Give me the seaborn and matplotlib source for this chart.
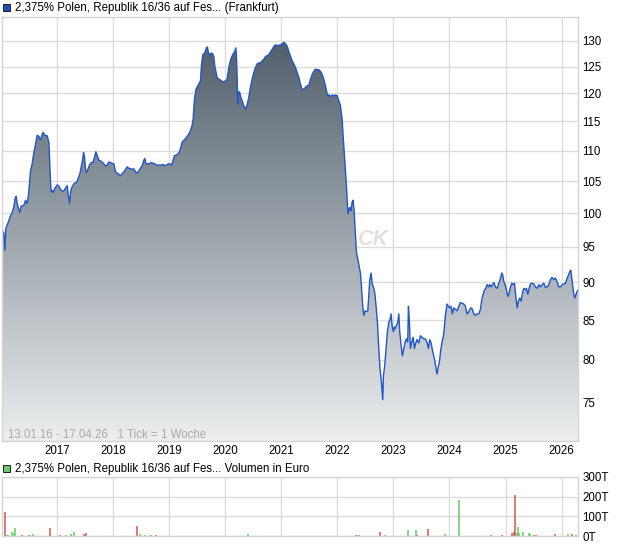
import numpy as np
import pandas as pd
import matplotlib
matplotlib.use('Agg')
import matplotlib.pyplot as plt
import matplotlib.dates as mdates
from matplotlib.ticker import FixedLocator, FixedFormatter, NullLocator
from matplotlib.patches import Rectangle
import seaborn as sns

# ── DATA ───────────────────────────────────────────────
# weekly closes, time as decimal year
price_year = [
    2016.034, 2016.056, 2016.074, 2016.092, 2016.116, 2016.146, 2016.175, 2016.205, 2016.235, 2016.258,
    2016.276, 2016.294, 2016.324, 2016.342, 2016.365, 2016.413, 2016.443, 2016.472, 2016.496, 2016.514,
    2016.532, 2016.561, 2016.591, 2016.621, 2016.650, 2016.680, 2016.710, 2016.740, 2016.757, 2016.787,
    2016.829, 2016.858, 2016.870, 2016.888, 2016.900, 2016.918, 2016.936, 2016.959, 2016.983, 2017.007,
    2017.037, 2017.066, 2017.096, 2017.126, 2017.155, 2017.185, 2017.203, 2017.227, 2017.245, 2017.262,
    2017.292, 2017.316, 2017.352, 2017.381, 2017.411, 2017.435, 2017.458, 2017.476, 2017.494, 2017.512,
    2017.530, 2017.554, 2017.583, 2017.613, 2017.643, 2017.672, 2017.696, 2017.720, 2017.750, 2017.779,
    2017.809, 2017.839, 2017.868, 2017.898, 2017.928, 2017.958, 2017.987, 2018.017, 2018.047, 2018.076,
    2018.106, 2018.136, 2018.166, 2018.195, 2018.225, 2018.255, 2018.284, 2018.314, 2018.344, 2018.373,
    2018.403, 2018.433, 2018.463, 2018.492, 2018.522, 2018.552, 2018.569, 2018.593, 2018.623, 2018.659,
    2018.688, 2018.718, 2018.748, 2018.777, 2018.819, 2018.861, 2018.896, 2018.926, 2018.956, 2018.985,
    2019.015, 2019.045, 2019.074, 2019.098, 2019.128, 2019.158, 2019.181, 2019.205, 2019.235, 2019.265,
    2019.294, 2019.324, 2019.354, 2019.383, 2019.413, 2019.431, 2019.455, 2019.484, 2019.514, 2019.561,
    2019.579, 2019.603, 2019.638, 2019.668, 2019.686, 2019.710, 2019.739, 2019.769, 2019.799, 2019.817,
    2019.840, 2019.864, 2019.900, 2019.935, 2019.971, 2020.007, 2020.036, 2020.054, 2020.072, 2020.102,
    2020.137, 2020.173, 2020.191, 2020.203, 2020.215, 2020.226, 2020.244, 2020.262, 2020.280, 2020.304,
    2020.333, 2020.363, 2020.393, 2020.423, 2020.452, 2020.482, 2020.512, 2020.541, 2020.571, 2020.601,
    2020.630, 2020.660, 2020.690, 2020.720, 2020.749, 2020.779, 2020.809, 2020.838, 2020.868, 2020.898,
    2020.928, 2020.957, 2020.987, 2021.017, 2021.046, 2021.076, 2021.106, 2021.135, 2021.165, 2021.195,
    2021.225, 2021.254, 2021.284, 2021.314, 2021.343, 2021.373, 2021.403, 2021.432, 2021.462, 2021.492,
    2021.522, 2021.551, 2021.581, 2021.611, 2021.640, 2021.670, 2021.700, 2021.730, 2021.759, 2021.789,
    2021.813, 2021.836, 2021.860, 2021.884, 2021.908, 2021.937, 2021.967, 2021.997, 2022.027, 2022.056,
    2022.086, 2022.104, 2022.128, 2022.145, 2022.163, 2022.181, 2022.193, 2022.211, 2022.229, 2022.246,
    2022.264, 2022.282, 2022.300, 2022.318, 2022.341, 2022.365, 2022.389, 2022.413, 2022.431, 2022.454,
    2022.472, 2022.496, 2022.520, 2022.544, 2022.561, 2022.579, 2022.603, 2022.621, 2022.644, 2022.668,
    2022.692, 2022.716, 2022.740, 2022.763, 2022.787, 2022.811, 2022.823, 2022.846, 2022.870, 2022.894,
    2022.918, 2022.942, 2022.959, 2022.977, 2023.001, 2023.019, 2023.031, 2023.055, 2023.079, 2023.097,
    2023.114, 2023.138, 2023.162, 2023.186, 2023.209, 2023.233, 2023.257, 2023.269, 2023.287, 2023.304,
    2023.328, 2023.352, 2023.376, 2023.400, 2023.423, 2023.453, 2023.483, 2023.512, 2023.542, 2023.572,
    2023.602, 2023.625, 2023.649, 2023.673, 2023.697, 2023.720, 2023.744, 2023.762, 2023.780, 2023.798,
    2023.821, 2023.845, 2023.869, 2023.899, 2023.928, 2023.958, 2023.982, 2024.005, 2024.029, 2024.053,
    2024.077, 2024.106, 2024.136, 2024.166, 2024.196, 2024.225, 2024.255, 2024.285, 2024.314, 2024.338,
    2024.362, 2024.386, 2024.409, 2024.433, 2024.463, 2024.493, 2024.522, 2024.552, 2024.576, 2024.600,
    2024.623, 2024.647, 2024.671, 2024.695, 2024.718, 2024.742, 2024.766, 2024.790, 2024.819, 2024.849,
    2024.879, 2024.909, 2024.932, 2024.950, 2024.968, 2024.992, 2025.015, 2025.039, 2025.063, 2025.087,
    2025.111, 2025.134, 2025.158, 2025.182, 2025.206, 2025.229, 2025.253, 2025.277, 2025.301, 2025.324,
    2025.348, 2025.372, 2025.396, 2025.419, 2025.443, 2025.473, 2025.503, 2025.532, 2025.562, 2025.592,
    2025.621, 2025.651, 2025.681, 2025.711, 2025.740, 2025.770, 2025.800, 2025.830, 2025.859, 2025.889,
    2025.919, 2025.948, 2025.978, 2026.008, 2026.037, 2026.067, 2026.097, 2026.120, 2026.144, 2026.162,
    2026.180, 2026.198, 2026.216, 2026.233, 2026.257, 2026.275, 2026.293,
]
price_value = [
    97.3, 97.1, 94.5, 97.7, 98.2, 98.9, 99.6, 100.1, 101.0, 102.3,
    102.6, 101.5, 100.5, 100.1, 101.1, 101.2, 102.0, 101.5, 102.9, 104.8,
    106.7, 107.8, 109.7, 111.1, 112.6, 112.4, 111.8, 112.8, 113.1, 112.6,
    112.5, 111.4, 108.6, 104.8, 103.3, 103.5, 103.2, 103.8, 104.1, 104.4,
    104.2, 103.7, 103.4, 103.5, 103.9, 104.3, 102.9, 101.5, 103.3, 103.9,
    104.4, 104.7, 104.8, 105.5, 106.2, 107.3, 108.4, 109.7, 108.9, 106.9,
    106.4, 106.9, 107.6, 108.0, 108.0, 108.9, 109.8, 109.2, 108.4, 108.3,
    108.1, 107.8, 107.5, 107.6, 108.1, 108.0, 107.9, 107.8, 106.5, 106.3,
    106.1, 105.9, 106.2, 106.5, 106.9, 107.3, 107.1, 107.0, 106.9, 107.0,
    106.5, 106.3, 106.7, 107.1, 107.5, 108.4, 108.7, 107.8, 107.8, 107.9,
    108.0, 107.9, 107.8, 107.6, 107.6, 107.6, 107.7, 107.5, 107.6, 107.8,
    107.8, 107.6, 108.4, 109.2, 109.2, 109.4, 109.7, 110.3, 111.4, 111.7,
    112.0, 112.4, 112.8, 113.4, 114.3, 115.4, 119.0, 120.8, 121.4, 122.3,
    125.1, 127.3, 127.6, 128.6, 128.8, 127.3, 127.5, 127.6, 127.0, 125.1,
    123.9, 122.8, 122.6, 122.3, 122.1, 122.3, 122.6, 123.9, 125.1, 126.4,
    127.3, 127.9, 128.6, 127.3, 123.3, 118.1, 120.3, 120.2, 119.3, 118.7,
    117.8, 117.2, 117.9, 119.3, 121.1, 122.6, 123.9, 124.8, 125.5, 125.7,
    125.7, 126.1, 126.4, 126.9, 127.1, 127.3, 127.8, 128.3, 128.9, 129.2,
    129.1, 129.1, 129.2, 129.4, 129.7, 129.4, 128.9, 127.9, 127.0, 126.1,
    125.5, 124.8, 123.9, 123.0, 121.7, 120.7, 120.8, 121.1, 121.4, 121.5,
    122.6, 123.5, 124.1, 124.5, 124.4, 124.4, 124.1, 123.5, 122.6, 121.4,
    120.2, 119.6, 119.7, 119.4, 119.7, 119.6, 119.7, 119.6, 118.7, 117.8,
    115.4, 112.5, 109.1, 107.0, 104.3, 101.2, 99.9, 100.7, 100.9, 100.4,
    101.7, 102.0, 100.4, 97.7, 94.3, 93.3, 92.3, 91.3, 89.4, 86.8,
    85.6, 86.2, 86.1, 86.2, 88.1, 90.3, 91.3, 89.9, 89.4, 88.6,
    86.8, 84.7, 81.4, 78.9, 77.3, 75.3, 78.1, 79.3, 81.4, 83.5,
    84.7, 85.1, 85.8, 84.3, 83.5, 84.1, 83.9, 84.3, 84.7, 85.8,
    83.5, 81.8, 80.5, 81.4, 82.2, 82.6, 82.2, 86.8, 84.7, 81.4,
    82.2, 82.8, 81.4, 82.1, 82.5, 82.1, 83.0, 82.8, 82.6, 82.6,
    82.1, 81.4, 82.5, 82.1, 81.2, 80.5, 79.7, 78.9, 78.3, 79.1,
    79.7, 81.2, 82.2, 83.2, 85.6, 87.1, 86.8, 86.6, 86.8, 85.8,
    86.6, 86.4, 86.2, 86.8, 87.3, 87.2, 87.1, 86.8, 85.8, 86.0,
    86.4, 86.6, 86.4, 85.8, 85.6, 85.8, 85.8, 86.4, 87.7, 88.4,
    89.0, 89.2, 89.7, 89.4, 89.7, 89.4, 89.7, 90.0, 89.4, 89.2,
    89.9, 90.6, 91.3, 91.0, 90.1, 89.7, 89.0, 88.1, 88.6, 89.4,
    89.9, 89.7, 89.9, 88.1, 86.6, 87.5, 87.9, 87.5, 88.6, 89.2,
    89.0, 89.2, 88.4, 89.2, 89.8, 89.9, 89.8, 89.4, 89.2, 89.7,
    89.4, 89.7, 89.9, 89.3, 89.4, 89.7, 90.4, 90.7, 90.4, 90.6,
    90.1, 89.4, 89.4, 89.7, 89.8, 89.9, 90.6, 91.0, 91.5, 91.7,
    90.6, 89.4, 88.4, 87.9, 88.4, 88.8, 89.0,
]

# weekly volume in thousand euro, 'g' = up week, 'r' = down week
vol_year = [
    2016.070, 2016.092, 2016.113, 2016.134, 2016.211, 2016.239, 2016.261, 2016.387, 2016.437, 2016.500,
    2016.528, 2016.570, 2016.873, 2016.944, 2017.049, 2017.155, 2017.246, 2017.303, 2017.352, 2017.493,
    2017.514, 2018.134, 2018.437, 2018.479, 2018.570, 2018.655, 2018.676, 2018.768, 2020.415, 2022.331,
    2022.359, 2022.387, 2022.754, 2022.859, 2023.268, 2023.359, 2023.408, 2023.423, 2023.620, 2023.930,
    2024.169, 2024.746, 2024.944, 2025.106, 2025.141, 2025.169, 2025.204, 2025.225, 2025.246, 2025.317,
    2025.415, 2025.437, 2025.500, 2025.542, 2025.873, 2026.113, 2026.176, 2026.261,
]
vol_value = [
    121, 5, 5, 5, 21, 14, 42, 5, 2, 3,
    7, 9, 42, 2, 7, 7, 12, 21, 2, 12,
    16, 2, 52, 10, 5, 7, 7, 5, 12, 5,
    5, 5, 21, 5, 28, 2, 33, 7, 38, 12,
    182, 5, 5, 17, 21, 208, 17, 45, 14, 21,
    14, 10, 3, 7, 12, 12, 12, 3,
]
vol_dir = [
    'r', 'g', 'g', 'g', 'g', 'g', 'g', 'r', 'g', 'r',
    'g', 'g', 'r', 'g', 'r', 'g', 'g', 'g', 'g', 'r',
    'r', 'g', 'r', 'g', 'g', 'g', 'g', 'r', 'g', 'r',
    'g', 'g', 'r', 'g', 'g', 'g', 'g', 'r', 'r', 'g',
    'g', 'r', 'r', 'r', 'r', 'r', 'g', 'g', 'g', 'g',
    'g', 'g', 'r', 'r', 'r', 'g', 'r', 'g',
]

y_ticks = [75, 80, 85, 90, 95, 100, 105, 110, 115, 120, 125, 130]
vol_ticks = [0, 100, 200, 300]
vol_tick_labels = ['0T', '100T', '200T', '300T']

title_price = '2,375% Polen, Republik 16/36 auf Fes... (Frankfurt)'
title_vol = '2,375% Polen, Republik 16/36 auf Fes... Volumen in Euro'
range_note = '13.01.16 - 17.04.26   1 Tick = 1 Woche'


def to_date(y):
    yr = int(y)
    start = pd.Timestamp(yr, 1, 1)
    return start + (pd.Timestamp(yr + 1, 1, 1) - start) * (y - yr)


df = pd.DataFrame({'date': [to_date(y) for y in price_year], 'price': price_value})
vol = pd.DataFrame({'date': [to_date(y) for y in vol_year], 'volume': vol_value, 'dir': vol_dir})

x_start = pd.Timestamp('2016-01-13')
x_end = pd.Timestamp('2026-04-17')

# ── STYLE ──────────────────────────────────────────────
sns.set_theme(style='white')
plt.rcParams['font.family'] = ['Liberation Sans', 'DejaVu Sans']
grid_col = '#dcdcdc'
line_col = '#1f56c8'

fig = plt.figure(figsize=(6.2, 5.46), dpi=100)
fig.patch.set_facecolor('white')

# ── PRICE PANEL ────────────────────────────────────────
ax = fig.add_axes([0.004, 0.1914, 0.9282, 0.7775])
ax.set_yscale('log')
ax.set_xlim(x_start, x_end)
ax.set_ylim(70.66, 134.8)
ax.set_autoscale_on(False)

poly = ax.fill_between(df['date'], df['price'], 60, facecolor='none', edgecolor='none')

# vertical gradient under the curve
top = np.array([0x48, 0x57, 0x64]) / 255
bottom = np.array([0xec, 0xee, 0xef]) / 255
t = np.linspace(0, 1, 256)[:, None, None]
grad = top * (1 - t) + bottom * t
im = ax.imshow(grad, extent=(0, 1, 0, 1), transform=ax.transAxes, aspect='auto',
               zorder=1, interpolation='bilinear')
im.set_clip_path(poly.get_paths()[0], transform=ax.transData)

sns.lineplot(data=df, x='date', y='price', ax=ax, color=line_col, lw=1.0,
             estimator=None, sort=False, zorder=3)

ax.set_xlim(x_start, x_end)
ax.set_ylim(70.66, 134.8)
ax.set_xlabel('')
ax.set_ylabel('')

ax.text(0.6177, 0.4747, 'CK', transform=ax.transAxes, fontsize=15.5, fontweight='bold',
        fontstyle='italic', color='#e4dfda', zorder=0.8, va='center', ha='left')

ax.yaxis.set_major_locator(FixedLocator(y_ticks))
ax.yaxis.set_major_formatter(FixedFormatter([str(v) for v in y_ticks]))
ax.yaxis.set_minor_locator(NullLocator())
ax.yaxis.tick_right()
ax.xaxis.set_major_locator(mdates.YearLocator())
ax.xaxis.set_major_formatter(mdates.DateFormatter('%Y'))
ax.xaxis.set_minor_locator(NullLocator())
ax.tick_params(axis='y', length=0, pad=3, labelsize=8.3, colors='black')
ax.tick_params(axis='x', length=0, pad=2.5, labelsize=8.3, colors='black')

ax.set_axisbelow(True)
ax.grid(True, color=grid_col, lw=1.0)
for s in ax.spines.values():
    s.set_color('#d4d4d4')
    s.set_linewidth(1.0)
    s.set_zorder(4)

# ── VOLUME PANEL ───────────────────────────────────────
vax = fig.add_axes([0.004, 0.0183, 0.9282, 0.1081])
colors = {'g': '#5fcf5f', 'r': '#d9534f'}
vax.vlines(vol['date'], 0, vol['volume'], colors=[colors[d] for d in vol['dir']],
           lw=1.1, zorder=2)
vax.set_xlim(x_start, x_end)
vax.set_ylim(0, 300)
vax.yaxis.set_major_locator(FixedLocator(vol_ticks))
vax.yaxis.set_major_formatter(FixedFormatter(vol_tick_labels))
vax.yaxis.tick_right()
vax.xaxis.set_major_locator(mdates.YearLocator())
vax.tick_params(axis='y', length=0, pad=3, labelsize=8.3, colors='black')
vax.tick_params(axis='x', length=0, labelbottom=False)
vax.set_axisbelow(True)
vax.grid(True, color=grid_col, lw=1.0)
for s in vax.spines.values():
    s.set_color('#d4d4d4')
    s.set_linewidth(1.0)

# ── LEGEND TEXTS ───────────────────────────────────────
W, H = 620, 546
fig.add_artist(Rectangle((3 / W, 1 - 11 / H), 7 / W, 7 / H, transform=fig.transFigure,
                         facecolor='#1a4fb4', edgecolor='#222222', lw=0.7))
fig.text(15 / W, 1 - 8 / H, title_price, va='center', ha='left', fontsize=8.3, color='black')

fig.add_artist(Rectangle((3 / W, 1 - 472 / H), 7 / W, 7 / H, transform=fig.transFigure,
                         facecolor='#66cc66', edgecolor='#222222', lw=0.7))
fig.text(15 / W, 1 - 469 / H, title_vol, va='center', ha='left', fontsize=8.3, color='black')

fig.text(8 / W, 1 - 435 / H, range_note, va='center', ha='left', fontsize=8.3, color='#a8a8a8')

fig.savefig('out.png', dpi=100)
